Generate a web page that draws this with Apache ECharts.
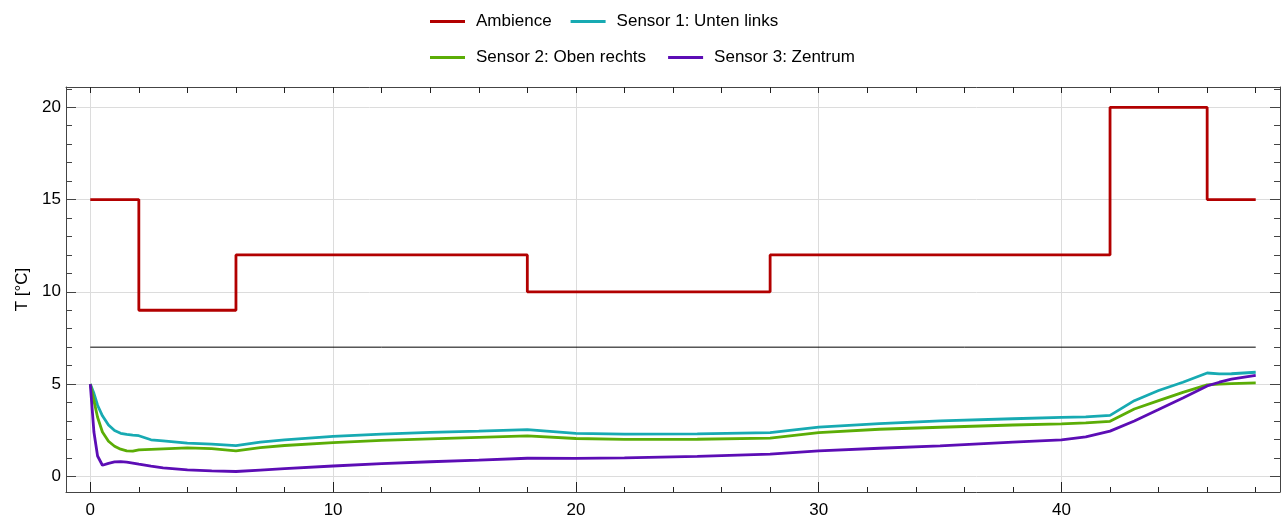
<!DOCTYPE html>
<html>
<head>
<meta charset="utf-8">
<script src="https://cdn.jsdelivr.net/npm/echarts@6/dist/echarts.min.js"></script>
<style>html,body{margin:0;padding:0;background:#fff}#c{width:1284px;height:530px}</style>
</head>
<body>
<div id="c"></div>
<script>
// ---- data ----
var ambT = [0, 2, 6, 18, 28, 42, 46, 48];
var ambV = [15, 9, 12, 10, 12, 20, 15, 15];

var sensT = [0, 0.15, 0.3, 0.5, 0.75, 1, 1.25, 1.5, 1.75, 2, 2.5, 3, 4, 5, 6, 7, 8, 10, 12, 14, 16, 18, 20, 22, 25, 28, 30, 32.5, 35, 38, 40, 41, 42, 43, 44, 45, 46, 46.5, 47, 48];
var sensor1 = [5, 4.5, 3.85, 3.28, 2.78, 2.48, 2.33, 2.27, 2.23, 2.2, 1.98, 1.92, 1.8, 1.74, 1.66, 1.85, 1.98, 2.17, 2.29, 2.38, 2.45, 2.53, 2.33, 2.29, 2.3, 2.37, 2.67, 2.86, 3.0, 3.12, 3.19, 3.22, 3.3, 4.1, 4.65, 5.1, 5.6, 5.55, 5.56, 5.64];
var sensor2 = [5, 4.1, 3.2, 2.4, 1.9, 1.63, 1.47, 1.38, 1.37, 1.43, 1.46, 1.49, 1.54, 1.5, 1.38, 1.55, 1.67, 1.83, 1.95, 2.03, 2.11, 2.19, 2.05, 2.0, 2.01, 2.07, 2.37, 2.55, 2.66, 2.78, 2.84, 2.9, 2.98, 3.65, 4.1, 4.55, 4.96, 5.0, 5.02, 5.06];
var sensor3 = [5, 2.4, 1.1, 0.6, 0.7, 0.78, 0.8, 0.77, 0.72, 0.66, 0.55, 0.46, 0.35, 0.29, 0.26, 0.34, 0.42, 0.56, 0.69, 0.79, 0.88, 0.98, 0.97, 1.0, 1.08, 1.2, 1.38, 1.52, 1.65, 1.85, 1.97, 2.14, 2.45, 3.0, 3.62, 4.25, 4.9, 5.1, 5.27, 5.47];

var refLineT = [0, 48];
var refLineV = [7, 7];

var seriesNames = ['Ambience', 'Sensor 1: Unten links', 'Sensor 2: Oben rechts', 'Sensor 3: Zentrum'];
var colors = ['#B20000', '#17AAB2', '#5BAD06', '#5C0DB5'];

var xMajor = [0, 10, 20, 30, 40];
var xMinor = [2, 4, 6, 8, 12, 14, 16, 18, 22, 24, 26, 28, 32, 34, 36, 38, 42, 44, 46, 48];
var xTop = [0, 2, 4, 6, 8, 10, 12, 14, 16, 18, 20, 22, 24, 26, 28, 30, 32, 34, 36, 38, 40, 42, 44, 46, 48];
var yMajor = [0, 5, 10, 15, 20];
var yMinor = [1, 2, 3, 4, 6, 7, 8, 9, 11, 12, 13, 14, 16, 17, 18, 19, 21];

function zip(a, b) { return a.map(function (v, i) { return [v, b[i]]; }); }

var FONT = 'Liberation Sans, Arial, sans-serif';
var FS = 17;
var AXC = '#444';
var XMIN = -1, XMAX = 49, YMIN = -0.85, YMAX = 21.1;

function xAx(opts) {
  var base = {
    type: 'value', min: XMIN, max: XMAX, position: 'bottom',
    axisLine: { show: false, onZero: false, lineStyle: { color: AXC, width: 1 } },
    axisTick: { show: false },
    axisLabel: { show: false },
    splitLine: { show: false }
  };
  return Object.assign(base, opts);
}
function yAx(opts) {
  var base = {
    type: 'value', min: YMIN, max: YMAX, position: 'left',
    axisLine: { show: false, onZero: false, lineStyle: { color: AXC, width: 1 } },
    axisTick: { show: false },
    axisLabel: { show: false },
    splitLine: { show: false }
  };
  return Object.assign(base, opts);
}

var legendBase = {
  left: 430, padding: 0, icon: 'rect', itemWidth: 35, itemHeight: 3, itemGap: 18,
  textStyle: { fontFamily: FONT, fontSize: FS, color: '#000', padding: [0, 0, 0, 6] }
};

var chart = echarts.init(document.getElementById('c'), null, { renderer: 'canvas' });
chart.setOption({
  animation: false,
  backgroundColor: '#fff',
  textStyle: { fontFamily: FONT },
  legend: [
    Object.assign({}, legendBase, { data: [seriesNames[0], seriesNames[1]], top: 13, itemGap: 19 }),
    Object.assign({}, legendBase, { data: [seriesNames[2], seriesNames[3]], top: 49, itemGap: 22 })
  ],
  grid: { left: 66, right: 4, top: 87, bottom: 38, containLabel: false },
  xAxis: [
    xAx({
      axisLine: { show: true, onZero: false, lineStyle: { color: AXC, width: 1 } },
      axisTick: { show: true, inside: true, length: 10, customValues: xMajor, lineStyle: { color: '#222' } },
      axisLabel: { show: true, customValues: xMajor, margin: 10, fontSize: FS, color: '#000', fontFamily: FONT },
      splitLine: { show: true, lineStyle: { color: '#dcdcdc', width: 1 } }
    }),
    xAx({
      axisTick: { show: true, inside: true, length: 5, customValues: xMinor, lineStyle: { color: '#222' } }
    }),
    xAx({
      position: 'top',
      axisLine: { show: true, onZero: false, lineStyle: { color: AXC, width: 1 } },
      axisTick: { show: true, inside: true, length: 6, customValues: xTop, lineStyle: { color: '#222' } }
    })
  ],
  yAxis: [
    yAx({
      name: 'T [°C]', nameLocation: 'middle', nameGap: 35, nameRotate: 90,
      nameTextStyle: { fontSize: FS, color: '#000', fontFamily: FONT },
      axisLine: { show: true, onZero: false, lineStyle: { color: AXC, width: 1 } },
      axisTick: { show: true, inside: true, length: 10, customValues: yMajor, lineStyle: { color: '#444' } },
      axisLabel: { show: true, customValues: yMajor, margin: 5, fontSize: FS, color: '#000', fontFamily: FONT },
      splitLine: { show: true, lineStyle: { color: '#dcdcdc', width: 1 } }
    }),
    yAx({
      axisTick: { show: true, inside: true, length: 6, customValues: yMinor, lineStyle: { color: '#444' } }
    }),
    yAx({
      position: 'right',
      axisLine: { show: true, onZero: false, lineStyle: { color: AXC, width: 1 } },
      axisTick: { show: true, inside: true, length: 10, customValues: yMajor, lineStyle: { color: '#444' } }
    }),
    yAx({
      position: 'right',
      axisTick: { show: true, inside: true, length: 6, customValues: yMinor, lineStyle: { color: '#444' } }
    })
  ],
  series: [
    {
      name: 'ref', type: 'line', data: zip(refLineT, refLineV), symbol: 'none',
      lineStyle: { color: '#000', width: 1 }, itemStyle: { color: '#000' }, silent: true
    },
    {
      name: seriesNames[0], type: 'line', step: 'end', data: zip(ambT, ambV), symbol: 'none',
      lineStyle: { color: colors[0], width: 2.8 }, itemStyle: { color: colors[0] }
    },
    {
      name: seriesNames[1], type: 'line', data: zip(sensT, sensor1), symbol: 'none',
      lineStyle: { color: colors[1], width: 2.8 }, itemStyle: { color: colors[1] }
    },
    {
      name: seriesNames[2], type: 'line', data: zip(sensT, sensor2), symbol: 'none',
      lineStyle: { color: colors[2], width: 2.8 }, itemStyle: { color: colors[2] }
    },
    {
      name: seriesNames[3], type: 'line', data: zip(sensT, sensor3), symbol: 'none',
      lineStyle: { color: colors[3], width: 2.8 }, itemStyle: { color: colors[3] }
    }
  ]
});
</script>
</body>
</html>
